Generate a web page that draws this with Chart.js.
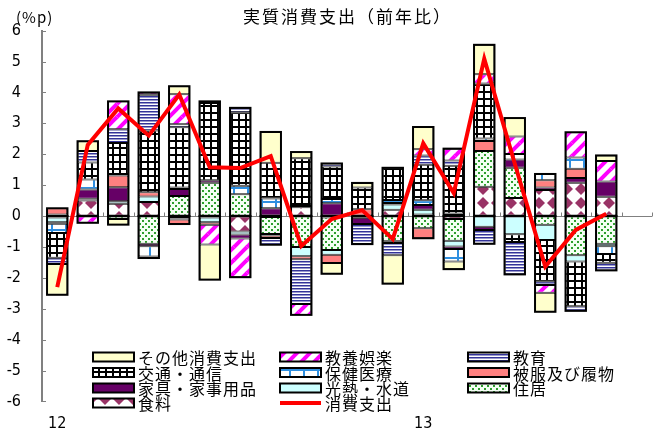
<!DOCTYPE html>
<html>
<head>
<meta charset="utf-8">
<script src="https://cdn.jsdelivr.net/npm/chart.js@4.4.1/dist/chart.umd.min.js"></script>
<style>
  body { margin: 0; background: #fff; }
  canvas { display: block; }
</style>
</head>
<body>
<canvas id="chart" width="661" height="432"></canvas>
<script>
// months: 12 = Jan 2012, 13 = Jan 2013 (last slot empty)
const months = ['12','','','','','','','','','','','','13','','','','','','',''];

// contributions (%p), stack order from zero outward
const food      = [-0.05, 0.5, 0.4, 0.45, -0.08, -0.05, -0.5, -0.03, 0.28, -0.05, -0.06, 0.2, 0.05, -0.1, 0.95, 0.58, 0.84, 1.08, 0.62];
const housing   = [0.05, 0.03, -0.1, -0.9, 0.65, 1.08, 0.7, -0.55, -1.0, -1.05, 0, -0.82, -0.4, -0.7, 1.15, 0.98, -0.28, -1.27, -0.9];
const fuel      = [-0.15, 0.03, 0.08, 0.18, -0.03, -0.15, -0.1, -0.05, -0.3, -0.15, 0, 0.17, 0.15, -0.19, -0.35, -0.59, -0.5, -0.2, -0.08];
const furniture = [-0.05, 0.3, 0.45, -0.08, 0.22, 0.08, -0.13, 0.25, 0, 0.41, -0.2, 0.05, 0.16, -0.08, -0.1, 0.27, 0.08, 0.15, 0.5];
const clothing  = [0.2, 0, 0.38, 0.14, -0.15, -0.08, 0, -0.08, -0.1, -0.27, 0.22, -0.05, -0.32, 0.08, 0.33, 0, 0.24, 0.3, 0];
const medical   = [-0.3, 0.32, 0.05, -0.33, 0.05, 0, 0.28, 0.32, 0.04, 0.14, 0, 0.1, 0.15, -0.4, 0.08, 0.18, 0.2, 0.36, -0.25];
const transport = [-0.8, 0.55, 1.0, 2.0, 1.95, 2.5, 2.38, 1.15, 1.55, 1.05, 0.7, 1.04, 1.15, 1.55, 1.78, -0.25, -1.33, -1.45, -0.28];
const education = [-0.2, 0.37, 0.45, 1.15, 0.1, 0.05, 0.14, -0.22, -1.45, 0.1, -0.65, -0.4, 0.3, 0.17, -0.45, -1.05, -0.12, -0.15, -0.25];
const culture   = [0, -0.22, 0.9, 0.08, 0.97, -0.64, -1.25, 0, -0.35, 0, 0, 0, 0.2, 0.38, 0.3, 0.56, -0.25, 0.82, 0.66];
const other     = [-1.0, 0.32, -0.18, -0.05, 0.26, -1.14, 0, 1.0, 0.2, -0.35, 0.15, -0.92, 0.72, -0.25, 0.95, 0.6, -0.62, 0, 0.18];
// 消費支出 (total, line)
const total     = [-2.3, 2.3, 3.48, 2.6, 3.93, 1.58, 1.55, 1.94, -0.97, -0.1, 0.19, -0.75, 2.35, 0.74, 5.09, 1.7, -1.64, -0.45, 0.07];

const yTicks = [-6, -5, -4, -3, -2, -1, 0, 1, 2, 3, 4, 5, 6];

// fill patterns
function makePattern(w, h, draw) {
  const c = document.createElement('canvas');
  c.width = w; c.height = h;
  const g = c.getContext('2d');
  draw(g, w, h);
  return g.createPattern(c, 'repeat');
}
const pCulture = makePattern(13, 13, (g, w, h) => {
  g.fillStyle = '#fff'; g.fillRect(0, 0, w, h);
  g.strokeStyle = '#ff00ff'; g.lineWidth = 4;
  [[0, h, w, 0], [-w, h, 0, 0], [w, h, 2 * w, 0], [0, 2 * h, w, h], [0, 0, w, -h]].forEach(l => {
    g.beginPath(); g.moveTo(l[0], l[1]); g.lineTo(l[2], l[3]); g.stroke();
  });
});
const pEducation = makePattern(4, 3, (g, w) => {
  g.fillStyle = '#333399'; g.fillRect(0, 0, w, 1);
  g.fillStyle = '#9999cc'; g.fillRect(0, 1, w, 1);
  g.fillStyle = '#ffffff'; g.fillRect(0, 2, w, 1);
});
const pTransport = makePattern(7, 7, (g, w, h) => {
  g.fillStyle = '#fff'; g.fillRect(0, 0, w, h);
  g.fillStyle = '#000'; g.fillRect(0, 0, 2, h); g.fillRect(0, 0, w, 2);
});
const pMedical = makePattern(14, 14, (g, w, h) => {
  g.fillStyle = '#fff'; g.fillRect(0, 0, w, h);
  g.fillStyle = '#2f8fe0'; g.fillRect(9, 0, 2, h); g.fillRect(0, 5, w, 2);
});
const pHousing = makePattern(6, 6, (g, w, h) => {
  g.fillStyle = '#f4fff4'; g.fillRect(0, 0, w, h);
  g.fillStyle = '#2e9e2e'; g.fillRect(1, 1, 2, 2); g.fillRect(4, 4, 2, 2);
});
const pFood = makePattern(14, 14, (g, w, h) => {
  g.fillStyle = '#fff'; g.fillRect(0, 0, w, h);
  g.fillStyle = '#993366';
  g.beginPath(); g.moveTo(7, 1); g.lineTo(13, 7); g.lineTo(7, 13); g.lineTo(1, 7); g.closePath(); g.fill();
});

const series = [
  { label: '食料', data: food, fill: pFood },
  { label: '住居', data: housing, fill: pHousing },
  { label: '光熱・水道', data: fuel, fill: '#ccffff' },
  { label: '家具・家事用品', data: furniture, fill: '#660066' },
  { label: '被服及び履物', data: clothing, fill: '#ff8080' },
  { label: '保健医療', data: medical, fill: pMedical },
  { label: '交通・通信', data: transport, fill: pTransport },
  { label: '教育', data: education, fill: pEducation },
  { label: '教養娯楽', data: culture, fill: pCulture },
  { label: 'その他消費支出', data: other, fill: '#ffffcc' }
];

const datasets = series.map(s => ({
  type: 'bar',
  label: s.label,
  data: s.data,
  backgroundColor: s.fill,
  borderColor: '#000',
  borderWidth: 1,
  borderSkipped: false,
  barPercentage: 0.67,
  categoryPercentage: 1,
  stack: 'bars',
  order: 1
}));
datasets.push({
  type: 'line',
  label: '消費支出',
  data: total,
  borderColor: '#ff0000',
  borderWidth: 4,
  pointRadius: 0,
  tension: 0,
  stack: 'line',
  order: 0
});

const cjk = '"Noto Sans CJK JP", "Noto Sans", sans-serif';
const narrow = '"Liberation Sans Narrow", "DejaVu Sans Condensed", "Liberation Sans", sans-serif';

// legend layout: rows of 3, same order as the reference
const legendOrder = [9, 8, 7, 6, 5, 4, 3, 2, 1, 0, 10];
const legendCols = [93, 280, 468];
const legendRows = [357, 372.5, 388, 403];

const deco = {
  id: 'deco',
  beforeDatasetsDraw(chart) {
    const ctx = chart.ctx, a = chart.chartArea, y = chart.scales.y;
    ctx.save();
    ctx.strokeStyle = '#808080';
    ctx.lineWidth = 1;
    yTicks.forEach(v => {
      const py = Math.round(y.getPixelForValue(v)) + 0.5;
      ctx.beginPath(); ctx.moveTo(a.left, py); ctx.lineTo(a.left + 4, py); ctx.stroke();
    });
    const y0 = Math.round(y.getPixelForValue(0)) + 0.5;
    const step = a.width / months.length;
    for (let i = 1; i <= months.length; i++) {
      const px = Math.round(a.left + i * step) + 0.5;
      ctx.beginPath(); ctx.moveTo(px, y0); ctx.lineTo(px, y0 - 4); ctx.stroke();
    }
    ctx.restore();
  },
  afterDatasetDraw(chart, args) {
    // outline each stack after the last bar dataset is drawn
    if (args.index !== 0) return;
    const ctx = chart.ctx, x = chart.scales.x, y = chart.scales.y;
    const meta = chart.getDatasetMeta(0);
    ctx.save();
    ctx.strokeStyle = '#000';
    ctx.lineWidth = 2;
    for (let i = 0; i < total.length; i++) {
      let pos = 0, neg = 0;
      series.forEach(s => { const v = s.data[i]; if (v > 0) pos += v; else neg += v; });
      const w = meta.data[i].width;
      const px = x.getPixelForValue(i) - w / 2;
      const y0 = y.getPixelForValue(0);
      if (pos > 0) ctx.strokeRect(px, y.getPixelForValue(pos), w, y0 - y.getPixelForValue(pos));
      if (neg < 0) ctx.strokeRect(px, y0, w, y.getPixelForValue(neg) - y0);
    }
    ctx.restore();
  },
  afterDraw(chart) {
    const ctx = chart.ctx;
    ctx.save();
    ctx.fillStyle = '#000';
    ctx.textBaseline = 'middle';
    // title
    ctx.font = '17px ' + cjk;
    ctx.letterSpacing = '2px';
    ctx.textAlign = 'left';
    ctx.fillText('実質消費支出（前年比）', 243, 17);
    // unit
    ctx.letterSpacing = '1px';
    ctx.font = '15px ' + cjk;
    ctx.fillText('(%p)', 16, 17);
    // legend
    ctx.font = '16px ' + cjk;
    ctx.letterSpacing = '1px';
    legendOrder.forEach((di, k) => {
      const ds = chart.data.datasets[di];
      const cx = legendCols[k % 3], cy = legendRows[Math.floor(k / 3)];
      if (ds.type === 'line') {
        ctx.strokeStyle = '#ff0000';
        ctx.lineWidth = 4;
        ctx.beginPath(); ctx.moveTo(cx, cy); ctx.lineTo(cx + 41, cy); ctx.stroke();
      } else {
        ctx.fillStyle = ds.backgroundColor;
        ctx.fillRect(cx, cy - 4.5, 41, 9);
        ctx.strokeStyle = '#000';
        ctx.lineWidth = 2;
        ctx.strokeRect(cx, cy - 4.5, 41, 9);
      }
      ctx.fillStyle = '#000';
      ctx.fillText(ds.label, cx + 45, cy + 1);
    });
    ctx.restore();
  }
};

new Chart(document.getElementById('chart'), {
  data: { labels: months, datasets: datasets },
  plugins: [deco],
  options: {
    responsive: false,
    animation: false,
    devicePixelRatio: 1,
    layout: { padding: { left: 0, top: 30, right: 9, bottom: 0 } },
    plugins: {
      legend: { display: false },
      title: { display: false },
      tooltip: { enabled: false }
    },
    scales: {
      x: {
        stacked: true,
        offset: true,
        grid: { display: false },
        border: { display: false },
        ticks: {
          autoSkip: false, maxRotation: 0, padding: 5, color: '#000',
          font: { family: narrow, size: 16 }
        },
        afterFit: s => { s.height = 29; }
      },
      y: {
        stacked: true,
        min: -6, max: 6,
        afterBuildTicks: s => { s.ticks = yTicks.map(v => ({ value: v })); },
        grid: {
          drawTicks: false,
          color: c => (c.tick && c.tick.value === 0) ? '#808080' : 'rgba(0,0,0,0)',
          lineWidth: 1
        },
        border: { display: true, color: '#808080', width: 2 },
        ticks: {
          padding: 21, color: '#000',
          font: { family: narrow, size: 16 }
        },
        afterFit: s => { s.width = 42; }
      }
    }
  }
});
</script>
</body>
</html>
